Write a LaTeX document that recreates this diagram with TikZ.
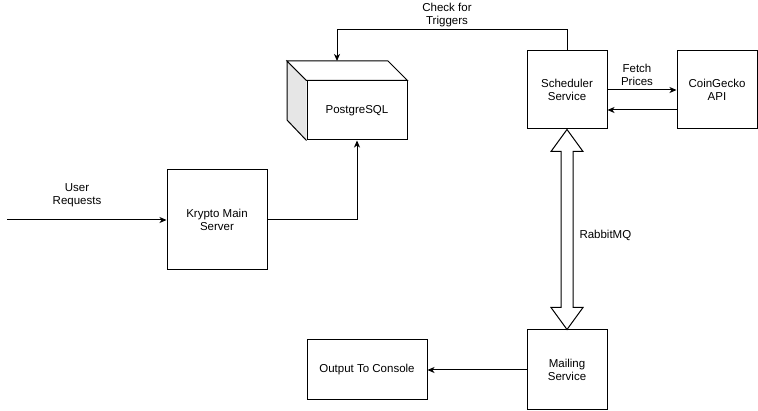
\documentclass[tikz,border=0pt]{standalone}
\usepackage{fontspec}
\setmainfont{Liberation Sans}
\usetikzlibrary{positioning,arrows.meta,calc}
\definecolor{sidegray}{RGB}{230,230,230}

\begin{document}
\begin{tikzpicture}[x=1pt,y=-1pt,line width=1pt,
		box/.style={draw,fill=white,align=center,inner sep=0pt},
		lbl/.style={align=center,inner sep=0pt},
		arr/.style={-{Stealth[length=7pt,width=6pt,inset=2pt]}}]
		\tikzstyle{every node}+=[font=\fontsize{11.5}{13.5}\selectfont]
		\useasboundingbox (0,0) rectangle (758,411);
		% boxes
		\node[box,minimum width=100pt,minimum height=100pt] (srv) at (217,220) {Krypto Main\\Server};
		\node[box,minimum width=80pt,minimum height=78pt] (sched) at (567,90) {Scheduler\\Service};
		\node[box,minimum width=80pt,minimum height=78pt] (api) at (717,90) {CoinGecko\\API};
		\node[box,minimum width=80pt,minimum height=80pt] (mail) at (567,370) {Mailing\\Service};
		\node[box,minimum width=120pt,minimum height=60pt] (out) at (367,370) {Output To Console};
		% postgres cube
		\node[box,minimum width=100pt,minimum height=59pt] (pg) at (357,110.5) {PostgreSQL};
		\fill[sidegray] (pg.north west) -- (287,61) -- (287,120) -- (pg.south west) -- cycle;
		\draw (pg.north west) -- (287,61) -- (287,120) -- (pg.south west);
		\draw[fill=white] (pg.north west) -- (287,61) -- (388,61) -- (pg.north east) -- cycle;
		\coordinate (pgtop) at (337,61);
		\coordinate (user) at (7,220);
		% connectors
		\draw[arr] (user) -- (srv.west);
		\node[lbl] (userlbl) at (77,195) {User\\Requests};
		\draw[arr] (srv.east) -| (pg.south);
		\draw[arr] (sched.north) -- ++(0,-21) -| (pgtop);
		\node[lbl] (triglbl) at (447,15) {Check for\\Triggers};
		\draw[arr] (sched.east) -- (api.west);
		\node[lbl] (fetchlbl) at (637,75) {Fetch\\Prices};
		\draw[arr] ([yshift=-20pt]api.west) -- ([yshift=-20pt]sched.east);
		\draw[arr] (mail.west) -- (out.east);
		% rabbitmq double arrow
		\draw[fill=white] (sched.south) -- ($(sched.south)+(16,22)$) -- ($(sched.south)+(6,22)$)
			-- ($(mail.north)+(6,-22)$) -- ($(mail.north)+(16,-22)$) -- (mail.north)
			-- ($(mail.north)+(-16,-22)$) -- ($(mail.north)+(-6,-22)$)
			-- ($(sched.south)+(-6,22)$) -- ($(sched.south)+(-16,22)$) -- cycle;
		\node[lbl,anchor=west] (mqlbl) at (579,235) {RabbitMQ};
\end{tikzpicture}
\end{document}
